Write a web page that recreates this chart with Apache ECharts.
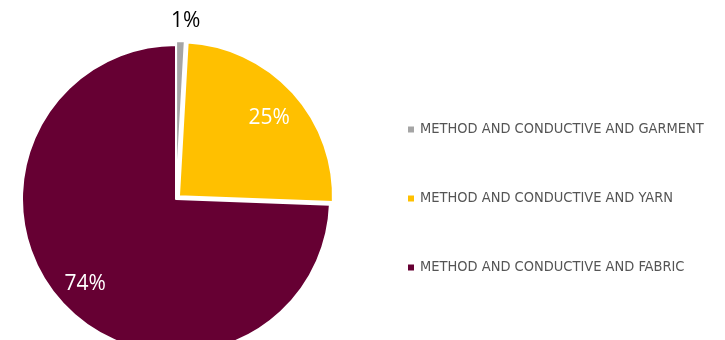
<html lang="en">
<head>
    <meta charset="UTF-8">
    <title>pie</title>
    <script src="https://cdn.jsdelivr.net/npm/echarts@6/dist/echarts.min.js"></script>
</head>
<body style="margin:0">
    <div id="main" style="width: 725px; height: 340px;"></div>
    <script type="text/javascript">
        var names = ['METHOD AND CONDUCTIVE AND GARMENT', 'METHOD AND CONDUCTIVE AND YARN', 'METHOD AND CONDUCTIVE AND FABRIC'];
        var values = [0.9, 24.7, 74.4];
        var colors = ['#A5A5A5', '#FFC000', '#660033'];
        var exploded = [true, true, false];

        var chart = echarts.init(document.getElementById('main'));

        function pct(p) {
            return Math.round(p.percent) + '%';
        }

        // main slices; only the small one gets an outside label
        var mainData = [];
        // transparent overlay with bigger radius, used only to push inside labels outwards
        var labelData = [];
        for (var i = 0; i < names.length; i++) {
            mainData.push({
                name: names[i],
                value: values[i],
                selected: exploded[i],
                itemStyle: { color: colors[i] },
                label: { show: i == 0 }
            });
            labelData.push({
                name: names[i],
                value: values[i],
                label: { show: i != 0 }
            });
        }

        var option = {
            backgroundColor: '#fff',
            animation: false,
            legend: {
                orient: 'vertical',
                left: 401,
                top: 117,
                itemGap: 54,
                itemWidth: 8,
                itemHeight: 8,
                icon: 'rect',
                selectedMode: false,
                textStyle: {
                    color: '#555',
                    fontSize: 14.5,
                    fontFamily: 'DejaVu Sans Condensed'
                },
                data: names
            },
            series: [{
                name: 'main',
                type: 'pie',
                center: [176, 199],
                radius: 154,
                startAngle: 90,
                clockwise: true,
                selectedMode: 'multiple',
                selectedOffset: 4,
                itemStyle: {
                    borderColor: '#fff',
                    borderWidth: 2
                },
                label: {
                    position: 'outside',
                    formatter: pct,
                    color: '#000',
                    fontSize: 21,
                    fontFamily: 'Open Sans'
                },
                labelLine: { show: false, length: 10, length2: 0 },
                labelLayout: { align: 'center', verticalAlign: 'bottom' },
                data: mainData
            }, {
                name: 'labels',
                type: 'pie',
                z: 5,
                center: [176, 200],
                radius: 242,
                startAngle: 89,
                clockwise: true,
                silent: true,
                itemStyle: { color: 'rgba(0,0,0,0)' },
                label: {
                    position: 'inside',
                    formatter: pct,
                    color: '#fff',
                    fontSize: 21,
                    fontFamily: 'Open Sans'
                },
                labelLine: { show: false },
                data: labelData
            }]
        };
        chart.setOption(option);
    </script>
</body>
</html>
